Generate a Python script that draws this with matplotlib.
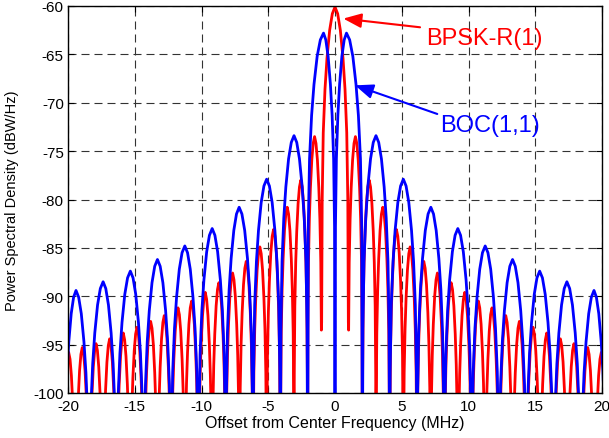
import matplotlib
matplotlib.use('Agg')
import matplotlib.pyplot as plt
import numpy as np

plt.rcParams['font.family'] = ['Liberation Sans', 'DejaVu Sans']
plt.rcParams['axes.unicode_minus'] = False

# BPSK-R(1): lobe peaks (right half, mirrored for the left)
bpsk_peak_x = [0.0, 1.53, 2.56, 3.58, 4.60, 5.63, 6.65, 7.67, 8.70, 9.72,
               10.74, 11.76, 12.79, 13.81, 14.83, 15.86, 16.88, 17.90, 18.93, 19.95]
bpsk_peak_y = [-60.1, -73.5, -78.0, -80.8, -83.1, -84.9, -86.4, -87.6, -88.6, -89.6,
               -90.5, -91.2, -92.0, -92.6, -93.2, -93.8, -94.4, -94.9, -95.3, -95.8]
# nulls to the right of each peak, and how deep they go
bpsk_null_x = [1.00, 2.05, 3.07, 4.09, 5.12, 6.14, 7.16, 8.18, 9.21, 10.23,
               11.25, 12.28, 13.30, 14.32, 15.35, 16.37, 17.39, 18.41, 19.44, 20.46]
bpsk_null_y = [-92.7] + [-110] * 19

# BOC(1,1)
boc_peak_x = [0.86, 3.07, 5.12, 7.18, 9.20, 11.25, 13.30, 15.33, 17.37, 19.40]
boc_peak_y = [-62.8, -73.4, -77.9, -80.8, -83.0, -84.8, -86.2, -87.4, -88.5, -89.4]
boc_null_x = [0.0, 2.05, 4.09, 6.14, 8.18, 10.23, 12.28, 14.32, 16.37, 18.41, 20.30]
boc_null_y = [-110] * 11

# lobe profile: fraction of the way from peak to null -> dB below peak
lobe_frac = [0.2, 0.4, 0.6, 0.75, 0.88, 0.96]
lobe_drop = [0.7, 2.4, 5.3, 8.5, 13.0, 20.0]


def build_curve(peak_x, peak_y, null_x, null_y):
    # nulls sit between peaks: null[i] < peak[i] < null[i+1]
    xs, ys = [null_x[0]], [null_y[0]]
    for i in range(len(peak_x)):
        px, py = peak_x[i], peak_y[i]
        x0, x1 = null_x[i], null_x[i + 1]
        for f, d in zip(lobe_frac[::-1], lobe_drop[::-1]):
            xs.append(px - f * (px - x0))
            ys.append(py - d)
        xs.append(px)
        ys.append(py)
        for f, d in zip(lobe_frac, lobe_drop):
            xs.append(px + f * (x1 - px))
            ys.append(py - d)
        xs.append(x1)
        ys.append(null_y[i + 1])
    return np.array(xs), np.array(ys)


# full (symmetric) lists
bp_px = [-v for v in bpsk_peak_x[:0:-1]] + bpsk_peak_x
bp_py = bpsk_peak_y[:0:-1] + bpsk_peak_y
bp_nx = [-v for v in bpsk_null_x[::-1]] + bpsk_null_x
bp_ny = bpsk_null_y[::-1] + bpsk_null_y

bo_px = [-v for v in boc_peak_x[::-1]] + boc_peak_x
bo_py = boc_peak_y[::-1] + boc_peak_y
bo_nx = [-v for v in boc_null_x[:0:-1]] + boc_null_x
bo_ny = boc_null_y[:0:-1] + boc_null_y

x_red, y_red = build_curve(bp_px, bp_py, bp_nx, bp_ny)
x_blue, y_blue = build_curve(bo_px, bo_py, bo_nx, bo_ny)

fig = plt.figure(figsize=(6.09, 4.39), dpi=100)
ax = fig.add_axes([68 / 609, 1 - 394 / 439, 534 / 609, 387 / 439])

ax.plot(x_red, y_red, color='#ff0000', lw=2.0)
ax.plot(x_blue, y_blue, color='#0000ff', lw=2.0)

ax.set_xlim(-20, 20)
ax.set_ylim(-100, -60)
ax.set_xticks(np.arange(-20, 21, 5))
ax.set_yticks(np.arange(-100, -59, 5))
ax.grid(True, color='0.2', linestyle=(0, (7.2, 4.5)), linewidth=0.8)
ax.tick_params(direction='in', top=True, right=True, length=4, width=0.8,
               labelsize=11, pad=3)
ax.tick_params(axis='x', pad=4)
for s in ax.spines.values():
    s.set_linewidth(1.0)

ax.set_xlabel('Offset from Center Frequency (MHz)', fontsize=11.5)
ax.set_ylabel('Power Spectral Density (dBW/Hz)', fontsize=10.5)
ax.xaxis.set_label_coords(0.5, -0.058)
ax.yaxis.set_label_coords(-0.092, 0.5)

# labels with arrows
ax.annotate('', xy=(0.62, -61.3), xytext=(6.37, -62.2),
            arrowprops=dict(arrowstyle='-|>,head_length=0.55,head_width=0.22',
                            color='#ff0000', lw=1.5, mutation_scale=20,
                            shrinkA=0, shrinkB=0))
ax.text(6.8, -63.93, 'BPSK-R(1)', color='#ff0000', fontsize=17,
        ha='left', va='baseline')

ax.annotate('', xy=(1.50, -68.2), xytext=(7.66, -71.16),
            arrowprops=dict(arrowstyle='-|>,head_length=0.55,head_width=0.22',
                            color='#0000ff', lw=1.5, mutation_scale=20,
                            shrinkA=0, shrinkB=0))
ax.text(7.9, -72.9, 'BOC(1,1)', color='#0000ff', fontsize=17,
        ha='left', va='baseline')

fig.savefig('out.png', dpi=100)
